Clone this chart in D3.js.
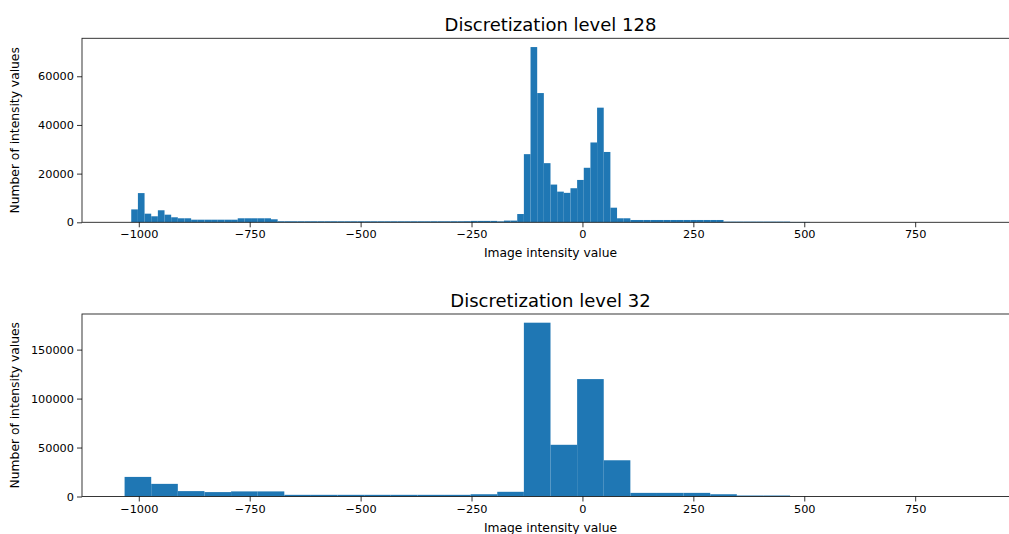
<!DOCTYPE html>
<html>
<head>
<meta charset="utf-8">
<script src="https://cdn.jsdelivr.net/npm/d3@7"></script>
<style>
  body { margin: 0; background: white; overflow: hidden; }
  svg { display: block; font-family: "DejaVu Sans", sans-serif; }
  .tick line { stroke: #000; stroke-width: 0.8; }
</style>
</head>
<body>
<main></main>
<script>
// Data
let xTicks = [-1000, -750, -500, -250, 0, 250, 500, 750]

// 128 bins, 15 units wide, first edge at -1032
let start128 = -1032
let width128 = 15
let counts128 = [
    0, 5300, 12000, 3540, 2470, 4940, 3130, 2060, 1650, 1650,
    1070, 1070, 1070, 1070, 1070, 1070, 1070, 1650, 1650, 1650,
    1650, 1650, 1240, 430, 430, 420, 420, 420, 420, 420,
    420, 420, 410, 410, 410, 410, 410, 410, 410, 410,
    410, 410, 410, 410, 410, 410, 420, 420, 420, 430,
    430, 450, 575, 575, 575, 575, 400, 700, 700, 3400,
    28000, 72000, 53100, 24300, 15500, 12600, 12100, 14000, 17400, 22400,
    32800, 47100, 28900, 6000, 1650, 1650, 950, 950, 950, 950,
    950, 950, 950, 950, 950, 950, 950, 950, 950, 950,
    280, 280, 280, 280, 280, 280, 280, 280, 280, 280,
    150, 150, 150, 0, 0, 0, 0, 0, 0, 0,
    0, 0, 0, 0, 0, 0, 0, 0, 0, 0,
    0, 0, 0, 0, 0, 0, 0, 0
]
let yTicks128 = [0, 20000, 40000, 60000]

// 32 bins, 60 units wide
let start32 = -1032
let width32 = 60
let counts32 = [
    20000, 12900, 5500, 4500, 5200, 5200, 1700, 1700, 1700, 1700,
    1700, 1700, 1700, 2300, 4800, 177500, 52800, 119900, 37000, 3700,
    3700, 3700, 2300, 1000, 1000, 0, 0, 0, 0, 0,
    0, 0
]
let yTicks32 = [0, 50000, 100000, 150000]

let svg = d3.select('main')
    .append('svg')
    .attr('width', 1009)
    .attr('height', 534)

// axes box, right side runs past the picture edge like the original
let left = 82
let right = 1019

function styleTicks(a) {
    a.select('.domain').remove()
    a.selectAll('text')
        .style('font-family', '"DejaVu Sans", sans-serif')
        .style('font-size', '11.3px')
        .style('fill', '#000')
}

function drawHist(top, bottom, title, start, binWidth, counts, yTicks) {
    let edges = counts.map((c, i) => start + i * binWidth)
    let lo = start
    let hi = start + counts.length * binWidth
    let pad = (hi - lo) * 0.05

    let x = d3.scaleLinear()
        .domain([lo - pad, hi + pad])
        .range([left, right])

    let y = d3.scaleLinear()
        .domain([0, d3.max(counts) * 1.05])
        .range([bottom, top])

    let g = svg.append('g')

    g.selectAll('rect.bar')
        .data(counts)
        .enter()
        .append('rect')
        .attr('class', 'bar')
        .attr('x', (d, i) => x(edges[i]))
        .attr('width', (d, i) => x(edges[i] + binWidth) - x(edges[i]))
        .attr('y', d => y(d))
        .attr('height', d => bottom - y(d))
        .style('fill', '#1f77b4')

    // frame
    g.append('rect')
        .attr('x', left)
        .attr('y', top)
        .attr('width', right - left)
        .attr('height', bottom - top)
        .style('fill', 'none')
        .style('stroke', '#222')
        .style('stroke-width', 0.9)

    g.append('g')
        .attr('transform', `translate(0,${bottom})`)
        .call(d3.axisBottom(x)
            .tickValues(xTicks)
            .tickFormat(d3.format('d'))
            .tickSize(5)
            .tickPadding(3))
        .call(styleTicks)

    g.append('g')
        .attr('transform', `translate(${left},0)`)
        .call(d3.axisLeft(y)
            .tickValues(yTicks)
            .tickFormat(d3.format('d'))
            .tickSize(5)
            .tickPadding(3))
        .call(styleTicks)

    g.append('text')
        .attr('x', (left + right) / 2)
        .attr('y', top - 7)
        .attr('text-anchor', 'middle')
        .style('font-size', '18px')
        .text(title)

    g.append('text')
        .attr('x', (left + right) / 2)
        .attr('y', bottom + 35)
        .attr('text-anchor', 'middle')
        .style('font-size', '12.3px')
        .text('Image intensity value')

    g.append('text')
        .attr('transform', `translate(19,${(top + bottom) / 2}) rotate(-90)`)
        .attr('text-anchor', 'middle')
        .style('font-size', '12.3px')
        .text('Number of intensity values')
}

drawHist(38.3, 222.3, 'Discretization level 128', start128, width128, counts128, yTicks128)
drawHist(314, 496.5, 'Discretization level 32', start32, width32, counts32, yTicks32)
</script>
</body>
</html>
